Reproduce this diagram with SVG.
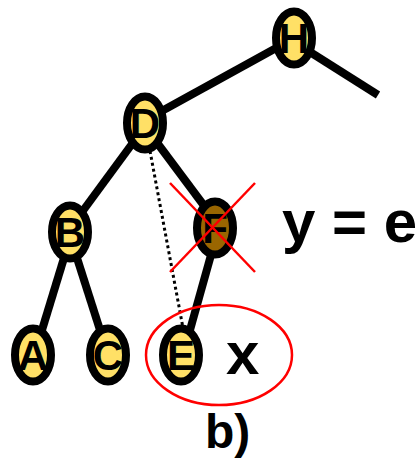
<svg xmlns="http://www.w3.org/2000/svg" width="419" height="462" viewBox="0 0 419 462">
<style>
.edge{stroke:#000;stroke-width:8;fill:none}
.nd{fill:#FFE066;stroke:#000;stroke-width:8}
.dead{fill:#9A6600}
.lbl{font-family:"Liberation Sans",Arial,sans-serif;font-weight:bold;font-size:42px;fill:#000;text-anchor:middle}
.big{font-family:"Liberation Sans",Arial,sans-serif;font-weight:bold;fill:#000}
.red{stroke:#F00;stroke-width:2.5;fill:none}
</style>
<g id="connectors">
<line class="edge" x1="160" y1="112" x2="278" y2="47"/>
<line class="edge" x1="310" y1="52" x2="378" y2="95"/>
<line class="edge" x1="132" y1="144" x2="82" y2="212"/>
<line class="edge" x1="158" y1="144" x2="205" y2="207"/>
<line class="edge" x1="64" y1="258" x2="42" y2="330"/>
<line class="edge" x1="77" y1="258" x2="100" y2="330"/>
<line class="edge" x1="211" y1="255" x2="190" y2="330"/>
<line x1="150" y1="151" x2="183" y2="328" stroke="#000" stroke-width="3" stroke-dasharray="3 3"/>
</g>
<g id="node-H"><ellipse class="nd" cx="294" cy="38" rx="18" ry="26.5"/><text class="lbl" x="294" y="53">H</text></g>
<g id="node-D"><ellipse class="nd" cx="145" cy="123" rx="18" ry="26.5"/><text class="lbl" x="145" y="138">D</text></g>
<g id="node-B"><ellipse class="nd" cx="70" cy="232" rx="18" ry="26.5"/><text class="lbl" x="70" y="247">B</text></g>
<g id="node-F"><ellipse class="nd dead" cx="215" cy="228" rx="18" ry="26.5"/><text class="lbl" x="215" y="243">F</text></g>
<g id="node-A"><ellipse class="nd" cx="33" cy="355" rx="18" ry="26.5"/><text class="lbl" x="33" y="370">A</text></g>
<g id="node-C"><ellipse class="nd" cx="108" cy="355" rx="18" ry="26.5"/><text class="lbl" x="108" y="370">C</text></g>
<g id="node-E"><ellipse class="nd" cx="181" cy="355" rx="18" ry="26.5"/><text class="lbl" x="181" y="370">E</text></g>
<g id="cross">
<line class="red" x1="170" y1="183" x2="255" y2="272"/>
<line class="red" x1="255" y1="183" x2="170" y2="272"/>
</g>
<ellipse id="circle-x" class="red" cx="219" cy="355" rx="73" ry="50"/>
<text class="big" x="226" y="374" font-size="60">x</text>
<text class="big" x="282" y="242" font-size="60">y = e</text>
<text class="big" x="205" y="448" font-size="48">b)</text>
</svg>
